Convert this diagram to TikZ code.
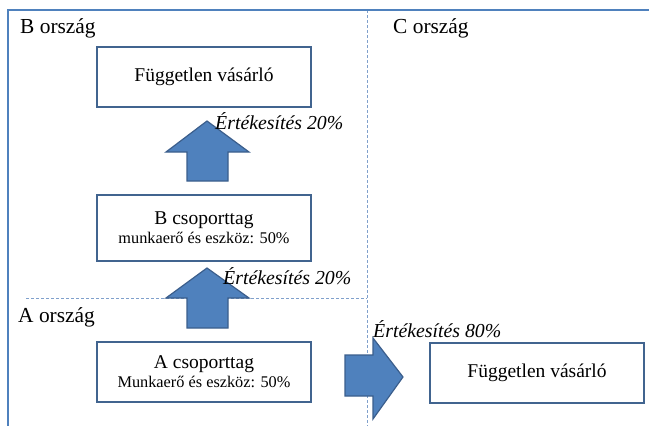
\documentclass[tikz,border=0pt]{standalone}
\usepackage{fontspec}
\setmainfont{Liberation Serif}
\definecolor{framec}{HTML}{4F81BD}
\definecolor{boxc}{HTML}{41648F}
\definecolor{arrfill}{HTML}{4F81BD}
\definecolor{arrline}{HTML}{3B5E8C}
\definecolor{dashc}{HTML}{7FA0CC}
\tikzset{
  frameline/.style={framec, line width=1.6pt},
  divider/.style={dashc, line width=0.7pt, dash pattern=on 3pt off 2pt},
  boxnode/.style={draw=boxc, line width=1.6pt, fill=white, minimum width=214pt,
    inner sep=0pt, align=center, font=\fontsize{17}{19}\selectfont},
  blockarrow/.style={fill=arrfill, draw=arrline, line width=1.2pt, line join=miter},
  countrylabel/.style={anchor=base west, inner sep=0pt, font=\fontsize{21.4}{22}\selectfont},
  salelabel/.style={anchor=base west, inner sep=0pt, font=\fontsize{19.8}{20}\selectfont\itshape},
}
\newcommand{\bigtxt}[1]{{\fontsize{19.5}{19}\selectfont #1}}
\newcommand{\smalltxt}[1]{{\fontsize{16.3}{19}\selectfont #1}}
\begin{document}
\begin{tikzpicture}[x=1pt,y=-1pt]
\useasboundingbox (0,0) rectangle (649,426);

% country dividers
\draw[divider] (367,10) -- (367,426);
\draw[divider] (26,298) -- (367,298);

% outer frame (top and left edges)
\draw[frameline] (649,10) -- (8,10) -- (8,426);

% country names
\node[countrylabel] (bland) at (20,33) {B ország};
\node[countrylabel] (cland) at (393,33) {C ország};
\node[countrylabel] (aland) at (18,322) {A ország};

% block arrows
\draw[blockarrow] (207,121) -- (249,152) -- (228,152) -- (228,181) -- (187,181)
  -- (187,152) -- (166,152) -- cycle;
\draw[blockarrow] (207,268) -- (249,298) -- (228,298) -- (228,328) -- (187,328)
  -- (187,298) -- (166,298) -- cycle;
\draw[blockarrow] (403,377) -- (373,419) -- (373,396) -- (345,396) -- (345,355)
  -- (373,355) -- (373,338) -- cycle;

% boxes
\node[boxnode, minimum height=60pt] (buyerB) at (204,77) {\bigtxt{Független vásárló}};
\node[boxnode, minimum height=66pt] (memberB) at (204,228)
  {\bigtxt{B csoporttag}\\\smalltxt{munkaerő és eszköz: 50\%}};
\node[boxnode, minimum height=60pt] (memberA) at (204,372)
  {\bigtxt{A csoporttag}\\\smalltxt{Munkaerő és eszköz: 50\%}};
\node[boxnode, minimum height=60pt] (buyerC) at (537,373) {\bigtxt{Független vásárló}};

% sales shares
\node[salelabel] (saleB) at (215,129) {Értékesítés 20\%};
\node[salelabel] (saleA) at (223,284) {Értékesítés 20\%};
\node[salelabel] (saleC) at (373,337) {Értékesítés 80\%};
\end{tikzpicture}
\end{document}
